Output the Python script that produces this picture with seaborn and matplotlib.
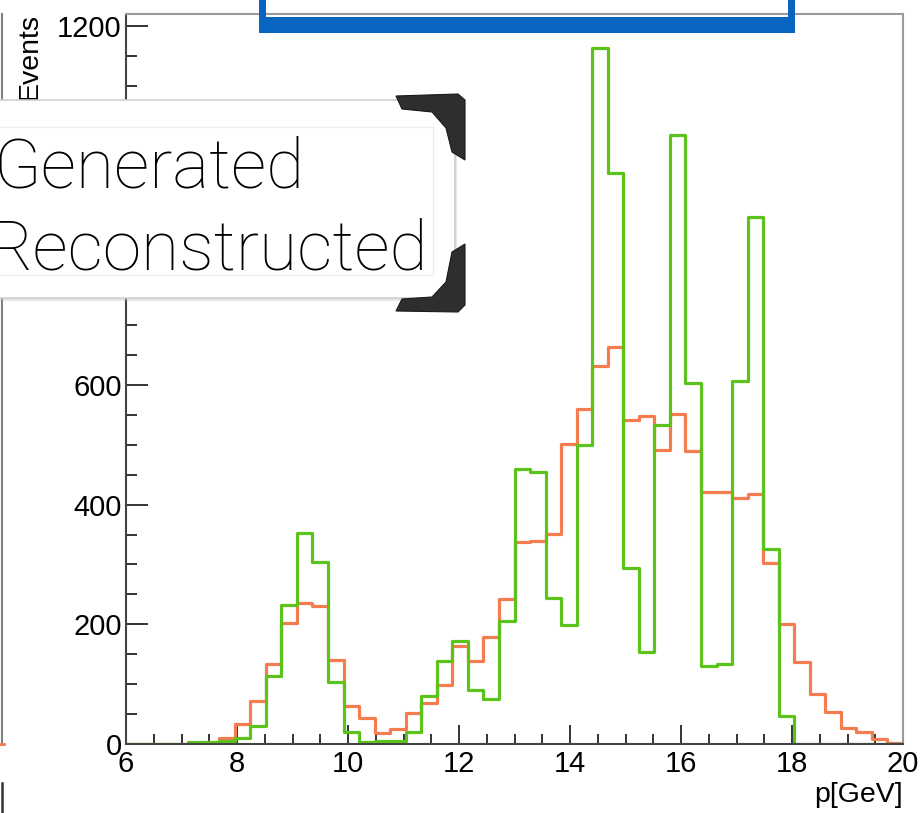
import numpy as np
import pandas as pd
import matplotlib
matplotlib.use("Agg")
import matplotlib.pyplot as plt
import seaborn as sns
from matplotlib.patches import Rectangle, Polygon
from matplotlib.lines import Line2D
from matplotlib.transforms import Affine2D
from matplotlib.ticker import MultipleLocator

# ---------------- data ----------------
p_min, p_max, n_bins = 6.0, 20.0, 50
generated = [0, 0, 0, 0, 3, 4, 5, 10, 30, 114,
             233, 352, 305, 104, 20, 4, 5, 5, 20, 80,
             138, 172, 90, 75, 206, 460, 454, 244, 199, 499,
             1163, 954, 294, 154, 533, 1017, 603, 130, 134, 606,
             880, 326, 47, 0, 0, 0, 0, 0, 0, 0]
reconstructed = [0, 0, 0, 0, 0, 3, 10, 33, 72, 133,
                 203, 235, 230, 140, 64, 43, 18, 25, 51, 69,
                 99, 163, 138, 178, 243, 337, 340, 351, 501, 560,
                 632, 664, 542, 548, 492, 551, 489, 421, 421, 411,
                 418, 302, 200, 137, 84, 53, 26, 20, 8, 2]
series_names = ["Generated", "Reconstructed"]
x_ticks = [6, 8, 10, 12, 14, 16, 18, 20]
y_ticks = [0, 200, 400, 600, 800, 1000, 1200]
y_tick_labels = ["0", "200", "400", "600", "", "", "1200"]
x_label = "p[GeV]"
y_label = "Events"

# ---------------- figure ----------------
W, H = 922, 813
fig = plt.figure(figsize=(W / 100, H / 100), dpi=100)
fig.patch.set_facecolor("white")
plt.rcParams["font.family"] = ["Liberation Sans", "DejaVu Sans"]
PX = Affine2D().scale(1 / W, -1 / H).translate(0, 1) + fig.transFigure

AX_L, AX_R, AX_T, AX_B = 126, 903, 14, 744
ax = fig.add_axes([AX_L / W, 1 - AX_B / H, (AX_R - AX_L) / W, (AX_B - AX_T) / H])

edges = np.linspace(p_min, p_max, n_bins + 1)
centers = (edges[:-1] + edges[1:]) / 2
df = pd.DataFrame({
    "p": np.concatenate([centers, centers]),
    "w": generated + reconstructed,
    "series": [series_names[0]] * n_bins + [series_names[1]] * n_bins,
})
palette = {series_names[0]: "#5cc21c", series_names[1]: "#f47c4f"}
sns.histplot(data=df, x="p", weights="w", hue="series", bins=n_bins,
             binrange=(p_min, p_max), element="step", fill=False,
             palette=palette, linewidth=2.3, legend=False, ax=ax)

ax.set_xlim(p_min, p_max)
ax.set_ylim(0, 1220)
ax.set_xticks(x_ticks)
ax.set_xticklabels([str(t) for t in x_ticks])
ax.set_yticks(y_ticks)
ax.set_yticklabels(y_tick_labels)
ax.xaxis.set_minor_locator(MultipleLocator(0.5))
ax.yaxis.set_minor_locator(MultipleLocator(50))
ax.tick_params(axis="x", which="major", direction="in", length=14, width=1.4,
               color="#333333", labelsize=21, pad=4, top=False)
ax.tick_params(axis="x", which="minor", direction="in", length=7, width=1.4,
               color="#333333", top=False)
ax.tick_params(axis="y", which="major", direction="in", length=16, width=1.4,
               color="#333333", labelsize=21, pad=3, right=False)
ax.tick_params(axis="y", which="minor", direction="in", length=8, width=1.4,
               color="#333333", right=False)
for s in ["left", "bottom"]:
    ax.spines[s].set_color("#444444")
    ax.spines[s].set_linewidth(1.5)
for s in ["top", "right"]:
    ax.spines[s].set_color("#9a9a9a")
    ax.spines[s].set_linewidth(1.5)

ax.set_xlabel(x_label, fontsize=20.5, ha="right", va="baseline")
ax.xaxis.set_label_coords(1.0, (AX_B - 802) / (AX_B - AX_T))
ax.set_ylabel(y_label, fontsize=20.5, ha="right", va="center", rotation_mode="anchor")
ax.yaxis.set_label_coords((30 - AX_L) / (AX_R - AX_L), (AX_B - 13) / (AX_B - AX_T))

# ---------------- overlays (screenshot annotations) ----------------
fig.add_artist(Line2D([1.5, 1.5], [14, 745], color="#808080", lw=1.5, transform=PX, zorder=1))
fig.add_artist(Line2D([0, 4], [744, 744], color="#f47c4f", lw=2, transform=PX, zorder=1))
fig.add_artist(Line2D([1.5, 1.5], [783, 813], color="#333333", lw=1.8, transform=PX, zorder=1))

blue = "#0a65c0"
fig.add_artist(Rectangle((259, 17), 536, 16, transform=PX, facecolor=blue, edgecolor="none", zorder=5))
fig.add_artist(Rectangle((259, 0), 7, 33, transform=PX, facecolor=blue, edgecolor="none", zorder=5))
fig.add_artist(Rectangle((788, 0), 7, 33, transform=PX, facecolor=blue, edgecolor="none", zorder=5))

fig.add_artist(Rectangle((-6, 102), 463, 199, transform=PX, facecolor="#bbbbbb",
                         edgecolor="none", alpha=0.35, zorder=5))
fig.add_artist(Rectangle((-6, 100), 461, 198, transform=PX, facecolor="white",
                         edgecolor="#cfcfcf", lw=1.2, zorder=6))
fig.add_artist(Rectangle((-6, 127), 439, 148, transform=PX, facecolor="none",
                         edgecolor="#ededed", lw=1.0, zorder=6))
dark = "#2e2e2e"
fig.add_artist(Polygon([(396, 96), (458, 94), (465, 100), (465, 160), (452, 152),
                        (446, 128), (432, 112), (402, 109)], closed=True,
                       transform=PX, facecolor=dark, edgecolor="#1a1a1a", lw=0.8, zorder=7))
fig.add_artist(Polygon([(465, 244), (465, 305), (458, 312), (396, 311), (402, 299),
                        (432, 297), (446, 282), (452, 252)], closed=True,
                       transform=PX, facecolor=dark, edgecolor="#1a1a1a", lw=0.8, zorder=7))
fig.text(304, 187, series_names[0], transform=PX, fontsize=50, fontweight="light",
         family=["Roboto", "Liberation Sans", "DejaVu Sans"], ha="right", va="baseline",
         color="black", zorder=8)
fig.text(428, 269, series_names[1], transform=PX, fontsize=50, fontweight="light",
         family=["Roboto", "Liberation Sans", "DejaVu Sans"], ha="right", va="baseline",
         color="black", zorder=8)

fig.savefig("out.png", dpi=100)
